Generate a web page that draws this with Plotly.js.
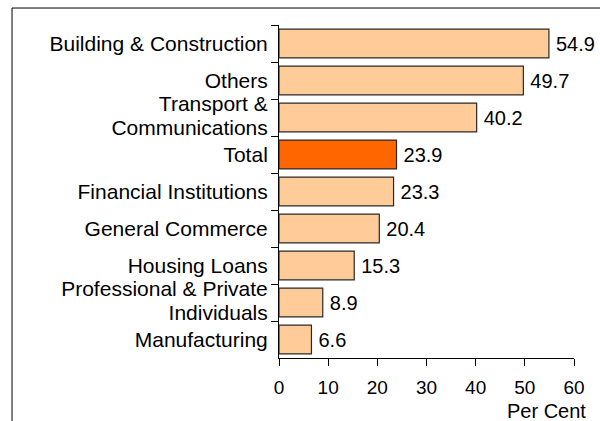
<!DOCTYPE html>
<html>
<head>
<meta charset="utf-8">
<script src="https://cdn.plot.ly/plotly-3.0.1.min.js"></script>
<style>
  html, body { margin: 0; padding: 0; background: #fff; }
  #chart { width: 600px; height: 421px; }
</style>
</head>
<body>
<div id="chart"></div>
<script>
const categories = [
  "Building & Construction",
  "Others",
  "Transport &<br>Communications",
  "Total",
  "Financial Institutions",
  "General Commerce",
  "Housing Loans",
  "Professional & Private<br>Individuals",
  "Manufacturing"
];
const values = [54.9, 49.7, 40.2, 23.9, 23.3, 20.4, 15.3, 8.9, 6.6];
const highlight = "Total";
const xTickValues = [0, 10, 20, 30, 40, 50, 60];
const xTitle = "Per Cent";

const FONT = "Arial, 'Liberation Sans', sans-serif";
const barColors = categories.map(c => c === highlight ? "#FF6600" : "#FFCC99");

const trace = {
  type: "bar",
  orientation: "h",
  y: categories,
  x: values,
  width: 0.78,
  marker: { color: barColors, line: { color: "#2a2a2a", width: 1.2 } },
  text: values.map(v => "\u2009" + v.toFixed(1)),
  textposition: "outside",
  textfont: { family: FONT, size: 20, color: "#000" },
  cliponaxis: false,
  hoverinfo: "none"
};

const layout = {
  width: 600,
  height: 421,
  margin: { l: 279, r: 26, t: 25, b: 63, pad: 0 },
  paper_bgcolor: "#fff",
  plot_bgcolor: "#fff",
  showlegend: false,
  font: { family: FONT, size: 20, color: "#000" },
  xaxis: {
    range: [0, 60],
    tickvals: xTickValues,
    ticktext: xTickValues.map(String),
    ticks: "outside",
    ticklen: 7,
    tickcolor: "#000",
    tickwidth: 1,
    ticklabelstandoff: 5,
    showline: true,
    linecolor: "#000",
    linewidth: 1,
    showgrid: false,
    zeroline: false,
    tickfont: { family: FONT, size: 19, color: "#000" },
    fixedrange: true
  },
  yaxis: {
    autorange: "reversed",
    type: "category",
    ticks: "outside",
    tickson: "boundaries",
    ticklen: 7,
    tickcolor: "#000",
    tickwidth: 1,
    ticklabelstandoff: 6,
    showline: true,
    linecolor: "#000",
    linewidth: 1,
    showgrid: false,
    zeroline: false,
    tickfont: { family: FONT, size: 21, color: "#000" },
    fixedrange: true
  },
  annotations: [{
    text: xTitle,
    xref: "paper", yref: "paper",
    x: 1.047, y: -0.158,
    xanchor: "right", yanchor: "middle",
    showarrow: false,
    font: { family: FONT, size: 20, color: "#000" }
  }],
  shapes: [{
    type: "rect",
    xref: "paper", yref: "paper",
    x0: -0.905, x1: 1.2,
    y0: -0.3, y1: 1.051,
    line: { color: "#000", width: 1 },
    fillcolor: "rgba(0,0,0,0)",
    layer: "below"
  }]
};

Plotly.newPlot("chart", [trace], layout, { staticPlot: true, displayModeBar: false }).then(() => {
  // tighten the line spacing of the two-line category labels
  document.querySelectorAll(".ytick text tspan.line").forEach(t => {
    const dy = t.getAttribute("dy");
    if (dy && dy.indexOf("1.3") === 0) {
      t.setAttribute("dy", "1.12em");
    }
  });
});
</script>
</body>
</html>
